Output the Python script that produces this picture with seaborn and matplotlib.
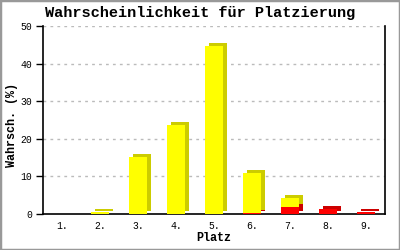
import matplotlib
matplotlib.use("Agg")
import matplotlib.pyplot as plt
import matplotlib.transforms as mtransforms
from matplotlib.patches import Rectangle
import seaborn as sns
import numpy as np

places = ["1.", "2.", "3.", "4.", "5.", "6.", "7.", "8.", "9."]
red_vals = [0.0, 0.0, 0.0, 0.0, 0.0, 0.3, 1.9, 1.3, 0.6]
yellow_vals = [0.0, 0.4, 15.2, 23.7, 44.8, 10.7, 2.3, 0.1, 0.0]
y_ticks = [0, 10, 20, 30, 40, 50]

totals = [r + y for r, y in zip(red_vals, yellow_vals)]

sns.set_theme(style="white")
plt.rcParams["font.family"] = ["Liberation Mono", "DejaVu Sans Mono"]
plt.rcParams["text.color"] = "black"
plt.rcParams["xtick.color"] = "black"
plt.rcParams["ytick.color"] = "black"
plt.rcParams["xtick.labelcolor"] = "black"
plt.rcParams["ytick.labelcolor"] = "black"

fig = plt.figure(figsize=(4, 2.5), dpi=100)
ax = fig.add_axes([0.1075, 0.144, 0.855, 0.752])

def draw(vals, color, offset=False):
    n0 = len(ax.patches)
    sns.barplot(x=places, y=vals, color=color, saturation=1, width=0.45,
                linewidth=0, ax=ax, order=places, errorbar=None, zorder=3)
    if offset:
        tr = ax.transData + mtransforms.ScaledTranslation(4 / 100, 3 / 100, fig.dpi_scale_trans)
        for p in ax.patches[n0:]:
            p.set_transform(tr)

draw(totals, "#CCCC00", offset=True)
draw(red_vals, "#CC0000", offset=True)
draw(totals, "#FFFF00")
draw(red_vals, "#FF0000")

ax.set_ylim(0, 50)
ax.set_xlim(-0.5, 8.5)
ax.set_yticks(y_ticks)
ax.set_yticklabels([str(t) for t in y_ticks], fontsize=7)
ax.tick_params(axis="y", which="both", left=True, length=5, width=1, color="black", pad=3, direction="out")
ax.tick_params(axis="x", length=0, pad=5, labelsize=7)
for t in y_ticks[1:]:
    ax.axhline(t, color="#BBBBBB", linewidth=1, linestyle=(0, (2, 3)), zorder=1)

for s in ["left", "bottom", "right"]:
    ax.spines[s].set_visible(True)
    ax.spines[s].set_color("black")
    ax.spines[s].set_linewidth(1.2)
ax.spines["top"].set_visible(False)

ax.set_xlabel("")
ax.set_ylabel("")
fig.text(0.535, 1 - 238 / 250, "Platz", ha="center", va="center",
         fontsize=8.5, fontweight="bold", color="black")
fig.text(12 / 400, 1 - 125 / 250, "Wahrsch. (%)", ha="center", va="center",
         rotation=90, fontsize=8.5, fontweight="bold", color="black")
fig.text(0.5, 0.948, "Wahrscheinlichkeit für Platzierung", ha="center", va="center",
         fontsize=11, fontweight="bold", color="black")

fig.patches.append(Rectangle((0, 0), 1, 1, transform=fig.transFigure, fill=False,
                             edgecolor="#999999", linewidth=2.5))

fig.savefig("out.png", dpi=100)
